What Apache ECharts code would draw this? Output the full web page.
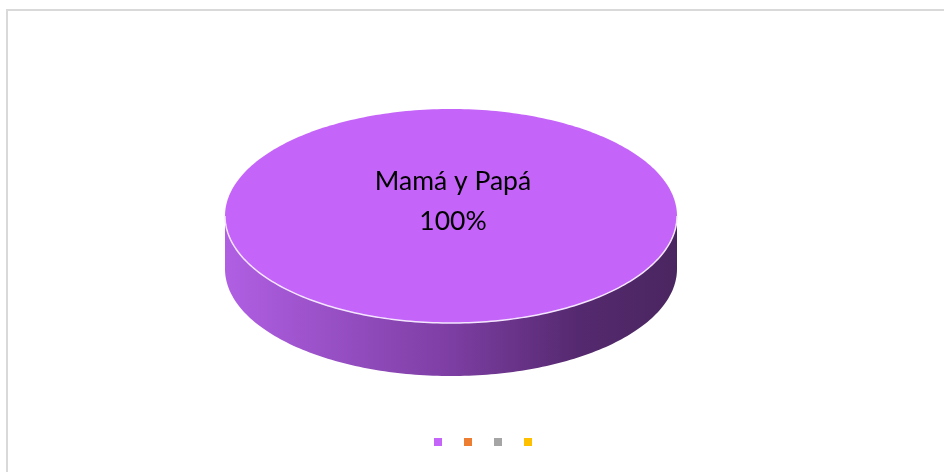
<!DOCTYPE html>
<html>
<head>
<meta charset="utf-8">
<script src="https://cdn.jsdelivr.net/npm/echarts@6/dist/echarts.min.js"></script>
<style>
  html, body { margin: 0; padding: 0; background: #fff; }
  #chart { width: 944px; height: 472px; }
</style>
</head>
<body>
<div id="chart"></div>
<script>
// categories & values (one slice = 100%)
const categories = ['Mamá y Papá', 'B', 'C', 'D'];
const values = [100, 0, 0, 0];
const colors = ['#c564f8', '#ed7d31', '#a5a5a5', '#ffc000'];
const sideColors = [
  ['#b05fe3', '#7d3ea3', '#55296f', '#4a2660'],
  ['#d9702c', '#a85822', '#7d4119', '#6a3715'],
  ['#9a9a9a', '#767676', '#575757', '#4a4a4a'],
  ['#f0b400', '#b88a00', '#8a6700', '#735600']
];

let chart = echarts.init(document.getElementById('chart'), null, { renderer: 'canvas' });

// ellipse geometry of the 3D pie
const cx = 451, cy = 216, rx = 226, ry = 107, depth = 53;
const total = values.reduce((a, b) => a + b, 0);

function ellPt(a, dy) {
  return [cx + rx * Math.cos(a), cy + dy + ry * Math.sin(a)];
}

function arcPts(a0, a1, dy) {
  let pts = [];
  let n = Math.max(2, Math.ceil(Math.abs(a1 - a0) / 0.02));
  for (let i = 0; i <= n; i++) pts.push(ellPt(a0 + (a1 - a0) * i / n, dy));
  return pts;
}

// draws slice idx as a 3D elliptic sector
function renderSlice(idx) {
  return function (params, api) {
    let v = values[idx];
    if (!v) return null;
    let before = values.slice(0, idx).reduce((a, b) => a + b, 0);
    let a0 = -Math.PI / 2 + before / total * Math.PI * 2;
    let a1 = a0 + v / total * Math.PI * 2;
    let full = v === total;
    let children = [];

    // front side wall (angles between 0 and PI)
    let s0 = Math.max(a0, 0), s1 = Math.min(a1, Math.PI);
    let segs = [[s0, s1], [Math.max(a0, 2 * Math.PI), Math.min(a1, 3 * Math.PI)]];
    let sc = sideColors[idx];
    segs.forEach(([b0, b1]) => {
      if (b1 <= b0) return;
      let top = arcPts(b0, b1, 0);
      let bot = arcPts(b1, b0, depth);
      children.push({
        type: 'polygon',
        shape: { points: top.concat(bot) },
        style: {
          fill: new echarts.graphic.LinearGradient(cx - rx, 0, cx + rx, 0, [
            { offset: 0, color: sc[0] },
            { offset: 0.5, color: sc[1] },
            { offset: 0.78, color: sc[2] },
            { offset: 1, color: sc[3] }
          ], true)
        }
      });
    });

    // top face
    let topPts = arcPts(a0, a1, 0);
    if (!full) topPts.push([cx, cy]);
    children.push({
      type: 'polygon',
      shape: { points: topPts },
      style: { fill: colors[idx] }
    });
    // light edge along the front rim
    if (s1 > s0) {
      children.push({
        type: 'polyline',
        shape: { points: arcPts(s0, s1, 0) },
        style: { stroke: '#f4e6ff', lineWidth: 1.5, fill: null }
      });
    }
    // data label
    let mid = (a0 + a1) / 2;
    let lp = full ? [cx, cy - 15] : ellPt(mid, 0).map((c, i) => (c + (i ? cy : cx)) / 2);
    children.push({
      type: 'text',
      style: {
        x: lp[0] + 2, y: lp[1],
        text: categories[idx] + '\n' + Math.round(v / total * 100) + '%',
        fill: '#000',
        font: '26.5px Lato',
        lineHeight: 40,
        align: 'center',
        verticalAlign: 'middle'
      }
    });
    return { type: 'group', children: children };
  };
}

let series = categories.map((name, i) => ({
  type: 'custom',
  name: name,
  coordinateSystem: 'none',
  data: [values[i]],
  itemStyle: { color: colors[i] },
  renderItem: renderSlice(i),
  silent: true
}));

chart.setOption({
  animation: false,
  graphic: [{
    type: 'rect',
    shape: { x: 7, y: 10, width: 1000, height: 1000 },
    style: { fill: null, stroke: '#d9d9d9', lineWidth: 2 },
    silent: true
  }],
  legend: {
    data: categories,
    left: 434,
    top: 438,
    padding: 0,
    icon: 'rect',
    itemWidth: 8,
    itemHeight: 8,
    itemGap: 22,
    formatter: () => '',
    selectedMode: false
  },
  series: series
});
</script>
</body>
</html>
